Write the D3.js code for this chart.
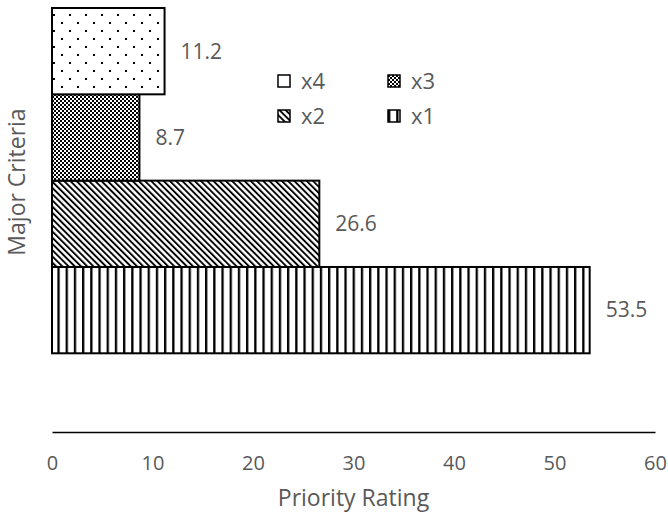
<!DOCTYPE html>
<html>
<head>
<meta charset="utf-8">
<script src="https://cdn.jsdelivr.net/npm/d3@7"></script>
<style>
  html, body { margin: 0; padding: 0; background: #fff; }
  svg { display: block; }
  text { font-family: "Open Sans", "Noto Sans", sans-serif; fill: #595959; }
</style>
</head>
<body>
<div id="chart"></div>
<script>
// ---- data ----
const categories = ["x1", "x2", "x3", "x4"];
const values = [53.5, 26.6, 8.7, 11.2];
const xTicks = [0, 10, 20, 30, 40, 50, 60];
const legendOrder = ["x4", "x3", "x2", "x1"];
const xTitle = "Priority Rating";
const yTitle = "Major Criteria";

// ---- layout ----
const W = 668, H = 516;
const svg = d3.select("#chart").append("svg").attr("width", W).attr("height", H);
const defs = svg.append("defs");

// patterns
const pV = defs.append("pattern").attr("id", "p-x1").attr("patternUnits", "userSpaceOnUse")
  .attr("width", 8.2).attr("height", 8);
pV.append("rect").attr("width", 8.2).attr("height", 8).attr("fill", "#fff");
pV.append("rect").attr("x", 0).attr("y", 0).attr("width", 2.3).attr("height", 8).attr("fill", "#000");

const pD = defs.append("pattern").attr("id", "p-x2").attr("patternUnits", "userSpaceOnUse")
  .attr("width", 4.4).attr("height", 10).attr("patternTransform", "rotate(-45)");
pD.append("rect").attr("width", 4.4).attr("height", 10).attr("fill", "#fff");
pD.append("rect").attr("x", 0).attr("y", 0).attr("width", 1.9).attr("height", 10).attr("fill", "#000");

const pC = defs.append("pattern").attr("id", "p-x3").attr("patternUnits", "userSpaceOnUse")
  .attr("width", 4).attr("height", 4);
pC.append("rect").attr("width", 4).attr("height", 4).attr("fill", "#fff");
pC.append("rect").attr("x", 0).attr("y", 0).attr("width", 2).attr("height", 2).attr("fill", "#000");
pC.append("rect").attr("x", 2).attr("y", 2).attr("width", 2).attr("height", 2).attr("fill", "#000");

const pDot = defs.append("pattern").attr("id", "p-x4").attr("patternUnits", "userSpaceOnUse")
  .attr("x", 53).attr("y", 14).attr("width", 16).attr("height", 16);
pDot.append("rect").attr("width", 16).attr("height", 16).attr("fill", "#fff");
pDot.append("rect").attr("x", 0).attr("y", 0).attr("width", 2).attr("height", 2).attr("fill", "#000");
pDot.append("rect").attr("x", 8).attr("y", 8).attr("width", 2).attr("height", 2).attr("fill", "#000");

const fillOf = c => `url(#p-${c})`;

// scales
const x = d3.scaleLinear().domain([0, 60]).range([52, 655]);
const y = d3.scaleBand().domain(categories).range([353.3, 8]).paddingInner(0).paddingOuter(0);

// bars
const rows = categories.map((c, i) => ({ c, v: values[i] }));
svg.append("g").selectAll("rect").data(rows).join("rect")
  .attr("x", x(0))
  .attr("y", d => y(d.c))
  .attr("width", d => x(d.v) - x(0))
  .attr("height", y.bandwidth())
  .attr("fill", d => fillOf(d.c))
  .attr("stroke", "#000")
  .attr("stroke-width", 2);

// value labels
svg.append("g").selectAll("text").data(rows).join("text")
  .attr("x", d => x(d.v) + 16)
  .attr("y", d => y(d.c) + y.bandwidth() / 2)
  .attr("dy", "0.35em")
  .attr("font-size", 21)
  .text(d => d.v.toFixed(1));

// x axis
const axisY = 432;
const gx = svg.append("g").attr("transform", `translate(0,${axisY})`)
  .call(d3.axisBottom(x).tickValues(xTicks).tickSize(0).tickSizeOuter(0).tickPadding(24).tickFormat(d3.format("d")));
gx.select(".domain").attr("stroke", "#000").attr("stroke-width", 1.5);
gx.selectAll("text").attr("font-size", 20).attr("fill", "#595959")
  .style("font-family", '"Open Sans", "Noto Sans", sans-serif');

// axis titles
svg.append("text").attr("x", x(30)).attr("y", 506).attr("text-anchor", "middle")
  .attr("font-size", 23).text(xTitle);
svg.append("text").attr("transform", "translate(17,182) rotate(-90)")
  .attr("text-anchor", "middle").attr("dy", "0.35em").attr("font-size", 23).text(yTitle);

// legend
const legPos = { x4: [278, 75], x3: [388, 75], x2: [278, 110], x1: [388, 110] };
const leg = svg.append("g").selectAll("g").data(legendOrder).join("g")
  .attr("transform", d => `translate(${legPos[d][0]},${legPos[d][1]})`);
leg.append("rect").attr("width", 12).attr("height", 12)
  .attr("fill", d => d === "x4" ? "#fff" : fillOf(d))
  .attr("stroke", "#000").attr("stroke-width", 1.5);
leg.append("text").attr("x", 23).attr("y", 6).attr("dy", "0.35em")
  .attr("font-size", 22).text(d => d);
</script>
</body>
</html>
